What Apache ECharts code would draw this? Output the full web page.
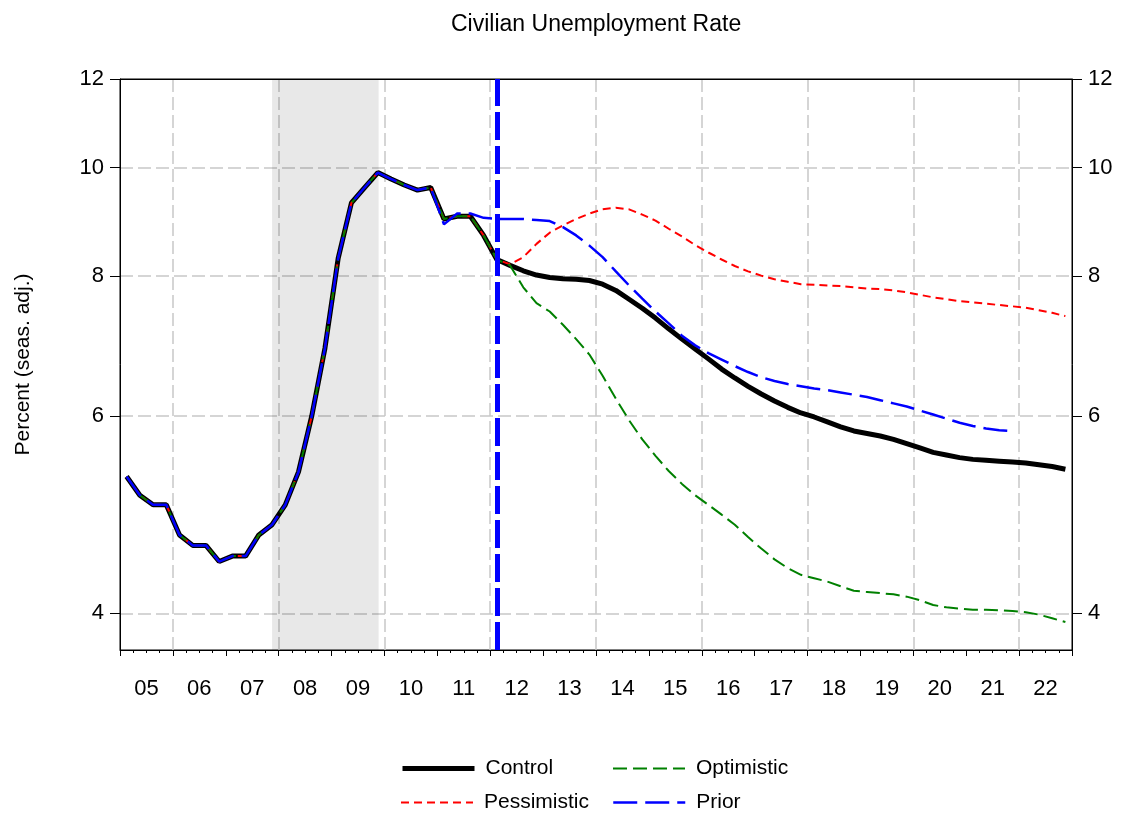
<!DOCTYPE html>
<html>
<head>
<meta charset="utf-8">
<title>Civilian Unemployment Rate</title>
<script src="https://cdn.jsdelivr.net/npm/echarts@6/dist/echarts.min.js"></script>
<style>
  html, body { margin: 0; padding: 0; background: #fff; }
  #myChart { width: 1127px; height: 825px; }
</style>
</head>
<body>
<div id="myChart"></div>
<script>
// quarterly history, 2005Q1 - 2012Q1
var histRate = [
  5.3, 5.1, 5.0, 5.0,
  4.7, 4.6, 4.6, 4.45,
  4.5, 4.5, 4.7, 4.8,
  5.0, 5.35, 6.0, 6.9,
  8.3, 9.3, 9.6, 9.9,
  9.77, 9.65, 9.55, 9.6,
  9.0, 9.05, 9.05, 8.7,
  8.28
];
// forecasts, 2012Q2 - 2022Q4
var controlFc = [
  8.18, 8.09, 8.02,
  7.98, 7.96, 7.95, 7.93,
  7.87, 7.77, 7.63, 7.49,
  7.34, 7.18, 7.03, 6.89,
  6.75, 6.61, 6.49, 6.38,
  6.28, 6.19, 6.11, 6.04,
  5.99, 5.93, 5.87, 5.82,
  5.79, 5.76, 5.72, 5.67,
  5.62, 5.57, 5.54, 5.51,
  5.49, 5.48, 5.47, 5.46,
  5.45, 5.43, 5.41, 5.38
];
var pessimisticFc = [
  8.2, 8.32, 8.55,
  8.75, 8.88, 9.0, 9.1,
  9.18, 9.21, 9.18, 9.08,
  8.97, 8.82, 8.68, 8.53,
  8.4, 8.28, 8.17, 8.08,
  8.01, 7.95, 7.91, 7.87,
  7.86, 7.85, 7.84, 7.82,
  7.8, 7.79, 7.77, 7.74,
  7.7, 7.66, 7.63, 7.6,
  7.58, 7.56, 7.54, 7.52,
  7.5, 7.46, 7.42, 7.37
];
var optimisticFc = [
  8.18, 7.82, 7.57,
  7.44, 7.24, 7.03, 6.81,
  6.52, 6.22, 5.95, 5.72,
  5.53, 5.36, 5.22, 5.1,
  5.0, 4.9, 4.8, 4.68,
  4.57, 4.47, 4.39, 4.33,
  4.3, 4.27, 4.23, 4.19,
  4.18, 4.17, 4.16, 4.14,
  4.11, 4.07, 4.05, 4.04,
  4.03, 4.03, 4.025, 4.02,
  4.01, 3.99, 3.96, 3.93
];
// prior forecast, 2011Q1 - 2021Q4 (history before that is shared)
var priorFc = [
  8.9, 9.1, 9.1, 9.02,
  9.0, 9.0, 9.0, 8.98,
  8.96, 8.85, 8.7, 8.52,
  8.32, 8.08, 7.85, 7.64,
  7.44, 7.26, 7.08, 6.94,
  6.83, 6.74, 6.65, 6.57,
  6.5, 6.45, 6.41, 6.38,
  6.35, 6.33, 6.3, 6.27,
  6.24, 6.2, 6.16, 6.12,
  6.07, 6.02, 5.97, 5.92,
  5.88, 5.85, 5.83, 5.82
];
var yearLabels = ['05','06','07','08','09','10','11','12','13','14','15','16','17','18','19','20','21','22'];
var yTicks = [4, 6, 8, 10, 12];
var yGrid = [4, 6, 8, 10];
var gridYears = [2006, 2008, 2010, 2012, 2014, 2016, 2018, 2020, 2022];
var recession = [2007.875, 2009.89];
var forecastStart = 2012.125;

var FONT = 'Liberation Sans';

// quarter midpoints as x values
function toPairs(values) {
  return values.map(function (v, i) { return [2005 + (i + 0.5) / 4, v]; });
}

// one legend per entry so the two columns line up like the original
function legendItem(name, left, top, width) {
  return {
    data: [{ name: name, lineStyle: { width: width } }],
    left: left, top: top, padding: 0,
    itemWidth: 72, itemHeight: 14,
    itemStyle: { opacity: 0 },
    textStyle: { fontFamily: FONT, fontSize: 21, color: '#000', padding: [0, 0, 0, 6] }
  };
}

var myChart = echarts.init(document.getElementById('myChart'));

var gridLine = { show: true, lineStyle: { color: '#c8c8c8', width: 1.5, type: [13, 5] } };

var yBase = {
  type: 'log',
  logBase: 10,
  min: 3.71,
  max: 12,
  axisLine: { show: true, lineStyle: { color: '#000', width: 1 } },
  axisTick: { show: true, customValues: yTicks, length: 10, lineStyle: { color: '#000' } },
  axisLabel: { customValues: yTicks, fontSize: 22, fontFamily: FONT, color: '#000', margin: 16 },
  minorTick: { show: false },
  minorSplitLine: { show: false },
  splitLine: { show: false }
};

var option = {
  animation: false,
  backgroundColor: '#fff',
  title: {
    text: 'Civilian Unemployment Rate',
    left: 446,
    top: 8,
    textStyle: { fontFamily: FONT, fontSize: 23, fontWeight: 'normal', color: '#000' }
  },
  grid: {
    left: 120, right: 55, top: 79, bottom: 175,
    show: true, borderColor: '#000', borderWidth: 1, backgroundColor: 'transparent'
  },
  legend: [
    legendItem('Control', 400, 758, 5),
    legendItem('Optimistic', 612, 758, 2),
    legendItem('Pessimistic', 400, 792, 2),
    legendItem('Prior', 612, 792, 2.5)
  ],
  xAxis: [{
    type: 'value',
    min: 2005, max: 2023, interval: 1,
    axisLine: { show: true, lineStyle: { color: '#000', width: 1 } },
    axisTick: { show: true, length: 6, lineStyle: { color: '#000' } },
    minorTick: { show: true, splitNumber: 4, length: 3, lineStyle: { color: '#000' } },
    axisLabel: {
      customValues: yearLabels.map(function (s, i) { return 2005.5 + i; }),
      formatter: function (v) { return yearLabels[Math.floor(v) - 2005]; },
      fontSize: 22, fontFamily: FONT, color: '#000', margin: 28
    },
    splitLine: { show: false }
  }, {
    // carries the dashed vertical grid (every other year) and the solid top frame
    type: 'value',
    min: 2005, max: 2023,
    position: 'top',
    z: 1,
    axisLine: { show: true, lineStyle: { color: '#000', width: 1 } },
    axisTick: { show: false, customValues: gridYears },
    axisLabel: { show: false, customValues: gridYears },
    splitLine: gridLine
  }],
  yAxis: [
    Object.assign({}, yBase, {
      position: 'left',
      name: 'Percent (seas. adj.)',
      nameLocation: 'middle',
      nameGap: 86,
      nameRotate: 90,
      nameTextStyle: { fontSize: 21, fontFamily: FONT, color: '#000' }
    }),
    Object.assign({}, yBase, {
      position: 'right'
    }),
    // hidden twin that only draws the horizontal dashed grid
    Object.assign({}, yBase, {
      position: 'left',
      axisLine: { show: false },
      axisTick: { show: false, customValues: yGrid },
      axisLabel: { show: false, customValues: yGrid },
      splitLine: gridLine
    })
  ],
  series: [{
    name: 'Control',
    type: 'line',
    data: toPairs(histRate.concat(controlFc)),
    showSymbol: false, symbol: 'none',
    itemStyle: { color: '#000' },
    lineStyle: { color: '#000', width: 5 },
    markArea: {
      silent: true,
      itemStyle: { color: 'rgba(0,0,0,0.09)' },
      data: [[{ xAxis: recession[0] }, { xAxis: recession[1] }]]
    }
  }, {
    name: 'Pessimistic',
    type: 'line',
    data: toPairs(histRate.concat(pessimisticFc)),
    showSymbol: false, symbol: 'none',
    itemStyle: { color: '#ff0000' },
    lineStyle: { color: '#ff0000', width: 2, type: [8, 5] }
  }, {
    name: 'Optimistic',
    type: 'line',
    data: toPairs(histRate.concat(optimisticFc)),
    showSymbol: false, symbol: 'none',
    itemStyle: { color: '#008000' },
    lineStyle: { color: '#008000', width: 2, type: [14, 6] }
  }, {
    name: 'Prior',
    type: 'line',
    data: toPairs(histRate.slice(0, 24).concat(priorFc)),
    showSymbol: false, symbol: 'none',
    itemStyle: { color: '#0000ff' },
    lineStyle: { color: '#0000ff', width: 2.5, type: [24, 8] },
    markLine: {
      silent: true,
      symbol: ['none', 'none'],
      label: { show: false },
      lineStyle: { color: '#0000ff', width: 5, type: [28, 6] },
      data: [{ xAxis: forecastStart }]
    }
  }]
};

myChart.setOption(option);
</script>
</body>
</html>
